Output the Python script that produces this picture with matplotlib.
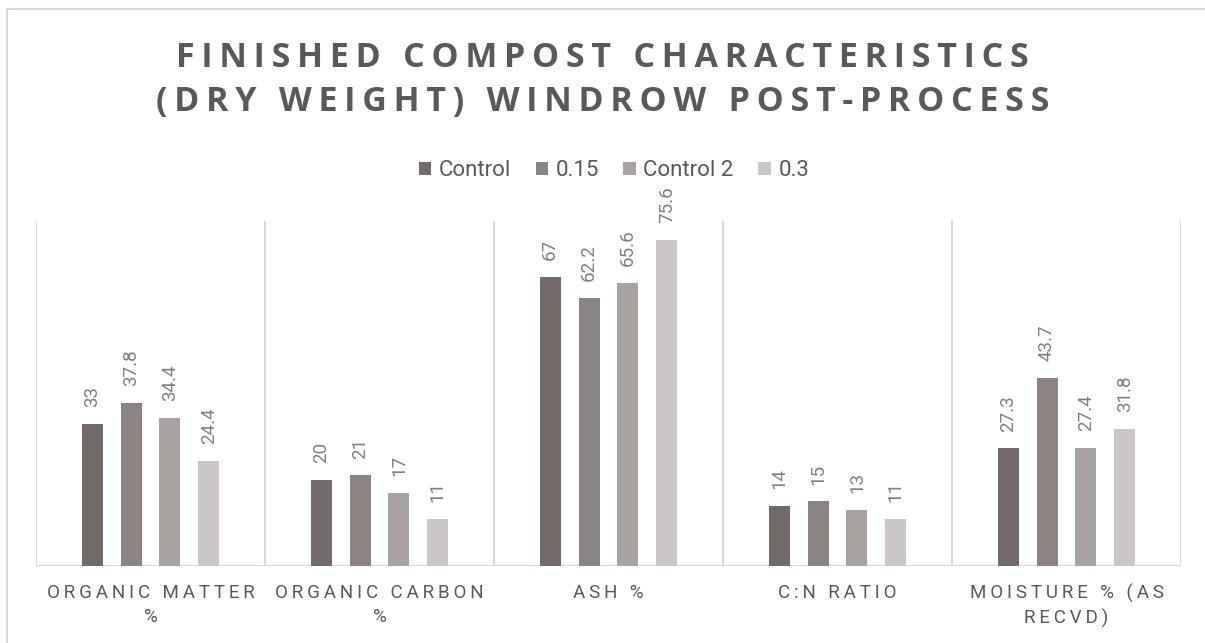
import matplotlib
matplotlib.use("Agg")
import matplotlib.pyplot as plt
from matplotlib.patches import Rectangle
import numpy as np

# --- data -------------------------------------------------------------
categories = ["ORGANIC MATTER\n%", "ORGANIC CARBON\n%", "ASH %", "C:N RATIO",
              "MOISTURE % (AS\nRECVD)"]
series_names = ["Control", "0.15", "Control 2", "0.3"]
control = [33, 20, 67, 14, 27.3]
v015 = [37.8, 21, 62.2, 15, 43.7]
control2 = [34.4, 17, 65.6, 13, 27.4]
v03 = [24.4, 11, 75.6, 11, 31.8]
series_values = [control, v015, control2, v03]
colors = ["#736a6a", "#8c8482", "#a8a2a1", "#cbc7c6"]

title = "FINISHED COMPOST CHARACTERISTICS\n(DRY WEIGHT) WINDROW POST-PROCESS"

W, H = 1205, 643
DPI = 100
fig = plt.figure(figsize=(W / DPI, H / DPI), dpi=DPI)
fig.patch.set_facecolor("white")


def spaced(s, sep):
    """Insert a narrow space between letters to widen tracking."""
    return "\n".join(sep.join(line) for line in s.split("\n"))


# chart-area border (runs off the right/bottom edge)
fig.add_artist(Rectangle((7 / W, -0.1), 1.2, 1 - 9 / H + 0.1,
                         transform=fig.transFigure, fill=False,
                         edgecolor="#d9d9d9", linewidth=1.5))

left, right = 36 / W, 1181 / W
bottom, top = 1 - 566 / H, 1 - 221 / H
ax = fig.add_axes([left, bottom, right - left, top - bottom])

n = len(categories)
x = np.arange(n)
step = 0.170
width = 0.092
offsets = (np.arange(len(series_names)) - 1.5) * step

for vals, name, col, off in zip(series_values, series_names, colors, offsets):
    bars = ax.bar(x + off, vals, width=width, color=col, label=name, zorder=3)
    for b, v in zip(bars, vals):
        ax.annotate(f"{v:g}", (b.get_x() + b.get_width() / 2, b.get_height()),
                    xytext=(0, 12), textcoords="offset points",
                    rotation=90, ha="center", va="bottom",
                    fontsize=13.5, color="#808080",
                    family=["Roboto", "DejaVu Sans"])

ax.set_xlim(-0.5, n - 0.5)
ax.set_ylim(0, 80)
for xv in np.arange(-0.5, n, 1.0):
    ax.axvline(xv, color="#d9d9d9", linewidth=1.5, zorder=1)
ax.axhline(0, color="#d9d9d9", linewidth=1.5, zorder=2)
for s in ax.spines.values():
    s.set_visible(False)
ax.set_yticks([])
ax.set_xticks(x)
ax.set_xticklabels([spaced(c, "\u2009") for c in categories],
                   family=["Roboto", "DejaVu Sans"], fontsize=13.5,
                   color="#595959", linespacing=1.4)
ax.tick_params(axis="x", length=0, pad=13)

fig.text(0.5, 1 - 80 / H, spaced(title, "\u2009"), ha="center", va="center",
         fontsize=24.5, fontweight="bold", color="#595959",
         family=["Open Sans", "DejaVu Sans"], linespacing=1.38)

leg = fig.legend(loc="center", bbox_to_anchor=(614 / W, 1 - 171 / H),
                 ncol=4, frameon=False, handlelength=0.55, handleheight=0.55,
                 handletextpad=0.35, columnspacing=1.1,
                 prop={"family": ["Roboto", "DejaVu Sans"], "size": 16})
for t in leg.get_texts():
    t.set_color("#595959")

fig.savefig("out.png", dpi=DPI)
